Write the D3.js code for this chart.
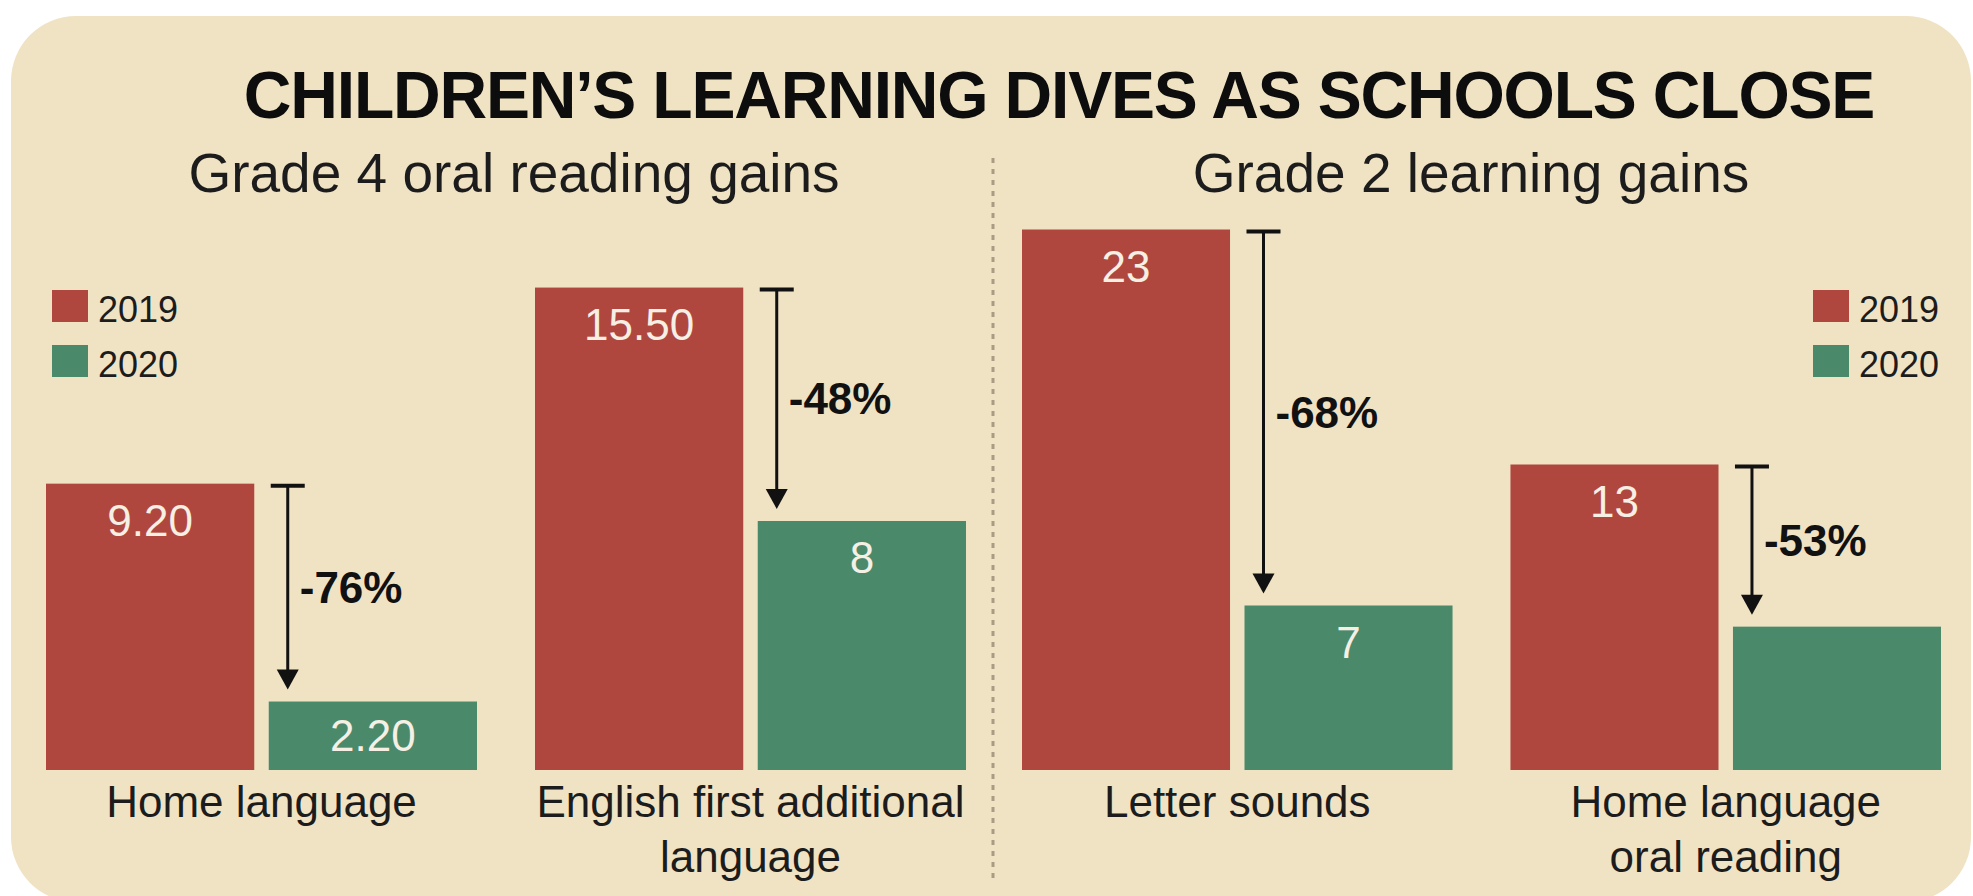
<!DOCTYPE html>
<html>
<head>
<meta charset="utf-8">
<script src="https://cdn.jsdelivr.net/npm/d3@7"></script>
<style>
  html, body { margin: 0; padding: 0; background: #ffffff; }
  svg { display: block; }
  text { font-family: "Liberation Sans", Arial, Helvetica, sans-serif; }
</style>
</head>
<body>
<svg id="chart" width="1973" height="896"></svg>
<script>
// ---- data ----
const title = "CHILDREN\u2019S LEARNING DIVES AS SCHOOLS CLOSE";
const panelTitles = ["Grade 4 oral reading gains", "Grade 2 learning gains"];
const years = ["2019", "2020"];
const categories = ["Home language", "English first additional language", "Letter sounds", "Home language oral reading"];
const categoryLines = [["Home language"], ["English first additional", "language"], ["Letter sounds"], ["Home language", "oral reading"]];
const categoryPanel = [0, 0, 1, 1];
const values2019 = [9.2, 15.5, 23, 13];
const values2020 = [2.2, 8, 7, 6.1];
const labels2019 = ["9.20", "15.50", "23", "13"];
const labels2020 = ["2.20", "8", "7", ""];
const changeLabels = ["-76%", "-48%", "-68%", "-53%"];

// ---- styles ----
const colors = { "2019": "#b0473f", "2020": "#4a8a6b" };
const bg = "#f0e3c4";
const ink = "#1c1c1c";

const svg = d3.select("#chart");

// background panel
svg.append("rect")
  .attr("x", 11).attr("y", 16)
  .attr("width", 1960).attr("height", 886)
  .attr("rx", 65).attr("ry", 65)
  .attr("fill", bg);

// title
svg.append("text")
  .attr("x", 1059).attr("y", 118)
  .attr("text-anchor", "middle")
  .attr("font-size", 66).attr("font-weight", "bold")
  .attr("letter-spacing", -1.2)
  .attr("fill", "#0d0d0d")
  .text(title);

// panels: x ranges and y scales
const panelX = [
  d3.scaleBand().domain(categories.filter((c, i) => categoryPanel[i] === 0)).range([46, 966]).paddingInner(0.1186),
  d3.scaleBand().domain(categories.filter((c, i) => categoryPanel[i] === 1)).range([1022, 1941]).paddingInner(0.1186)
];
const panelY = [
  d3.scaleLinear().domain([0, 16]).range([770, 272]),
  d3.scaleLinear().domain([0, 24]).range([770, 206])
];
const panelCenters = [514, 1471];

panelTitles.forEach((t, p) => {
  svg.append("text")
    .attr("x", panelCenters[p]).attr("y", 192)
    .attr("text-anchor", "middle")
    .attr("font-size", 55)
    .attr("fill", ink)
    .text(t);
});

// divider
svg.append("line")
  .attr("x1", 993).attr("x2", 993)
  .attr("y1", 158).attr("y2", 882)
  .attr("stroke", "#a89c82").attr("stroke-width", 3)
  .attr("stroke-dasharray", "5,6");

// legends
const legendPos = [{ x: 52, y: 290 }, { x: 1813, y: 290 }];
legendPos.forEach(lp => {
  years.forEach((yr, i) => {
    svg.append("rect")
      .attr("x", lp.x).attr("y", lp.y + i * 55)
      .attr("width", 36).attr("height", 32)
      .attr("fill", colors[yr]);
    svg.append("text")
      .attr("x", lp.x + 46).attr("y", lp.y + i * 55 + 32)
      .attr("font-size", 36)
      .attr("fill", ink)
      .text(yr);
  });
});

// bars
categories.forEach((cat, i) => {
  const p = categoryPanel[i];
  const x0 = panelX[p];
  const y = panelY[p];
  const x1 = d3.scaleBand().domain(years).range([0, x0.bandwidth()]).paddingInner(0.065);
  const gx = x0(cat);
  const vals = { "2019": values2019[i], "2020": values2020[i] };
  const labs = { "2019": labels2019[i], "2020": labels2020[i] };

  years.forEach(yr => {
    const bx = gx + x1(yr);
    const by = y(vals[yr]);
    svg.append("rect")
      .attr("x", bx).attr("y", by)
      .attr("width", x1.bandwidth()).attr("height", y(0) - by)
      .attr("fill", colors[yr]);
    if (labs[yr]) {
      const base = Math.min(by + 52, (by + y(0)) / 2 + 15);
      svg.append("text")
        .attr("x", bx + x1.bandwidth() / 2).attr("y", base)
        .attr("text-anchor", "middle")
        .attr("font-size", 44)
        .attr("fill", "#f6efe4")
        .text(labs[yr]);
    }
  });

  // arrow
  const ax = gx + x1("2020") + 19;
  const yTop = y(values2019[i]) + 2;
  const yTip = y(values2020[i]) - 12;
  svg.append("line")
    .attr("x1", ax - 17).attr("x2", ax + 17)
    .attr("y1", yTop).attr("y2", yTop)
    .attr("stroke", "#111").attr("stroke-width", 4);
  svg.append("line")
    .attr("x1", ax).attr("x2", ax)
    .attr("y1", yTop).attr("y2", yTip - 16)
    .attr("stroke", "#111").attr("stroke-width", 3);
  svg.append("path")
    .attr("d", `M${ax - 11},${yTip - 20} L${ax + 11},${yTip - 20} L${ax},${yTip} Z`)
    .attr("fill", "#111");
  svg.append("text")
    .attr("x", ax + 12).attr("y", (yTop + yTip) / 2 + 15)
    .attr("font-size", 44).attr("font-weight", "bold")
    .attr("fill", "#111")
    .text(changeLabels[i]);

  // category label
  const cx = gx + x0.bandwidth() / 2;
  categoryLines[i].forEach((line, k) => {
    svg.append("text")
      .attr("x", cx).attr("y", 817 + k * 55)
      .attr("text-anchor", "middle")
      .attr("font-size", 44)
      .attr("fill", ink)
      .text(line);
  });
});
</script>
</body>
</html>
